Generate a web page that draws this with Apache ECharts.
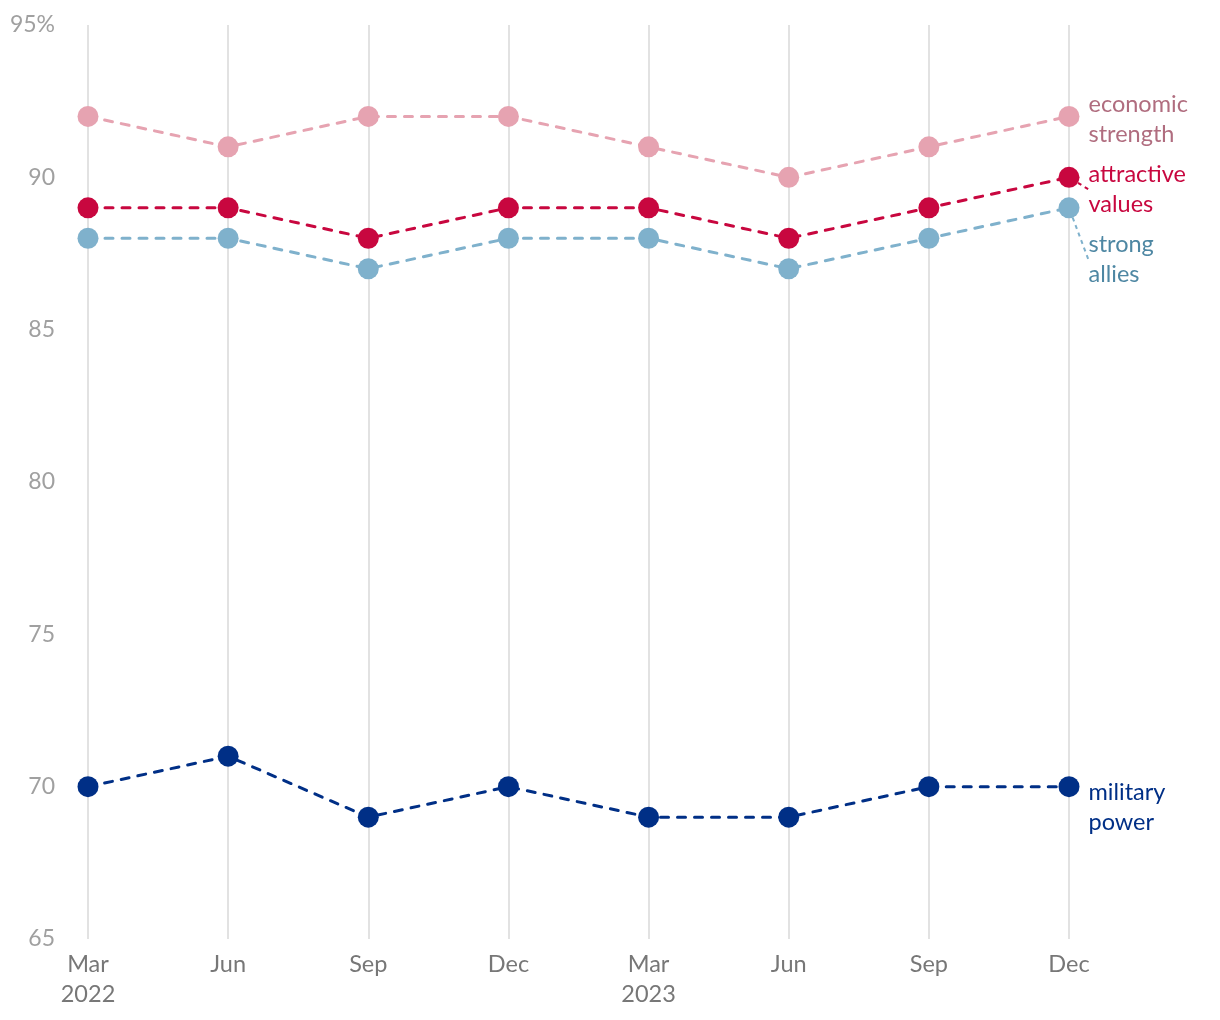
<!DOCTYPE html>
<html>
<head>
<meta charset="utf-8">
<script src="https://cdn.jsdelivr.net/npm/echarts@6/dist/echarts.min.js"></script>
<style>html,body{margin:0;padding:0;background:#fff}#c{width:1220px;height:1020px}</style>
</head>
<body>
<div id="c"></div>
<script>
const categories = ['Mar\n2022','Jun','Sep','Dec','Mar\n2023','Jun','Sep','Dec'];
const economicStrength = [92, 91, 92, 92, 91, 90, 91, 92];
const attractiveValues = [89, 89, 88, 89, 89, 88, 89, 90];
const strongAllies = [88, 88, 87, 88, 88, 87, 88, 89];
const militaryPower = [70, 71, 69, 70, 69, 69, 70, 70];
const seriesNames = ['economic\nstrength', 'attractive\nvalues', 'strong\nallies', 'military\npower'];

const FONT = 'Lato, "Noto Sans", sans-serif';

function mk(name, data, color, labelColor, dy, z, showLine) {
  const d = data.map((v, i) => {
    if (i === data.length - 1) {
      return { value: v, label: { show: true } };
    }
    return v;
  });
  return {
    name: name,
    type: 'line',
    data: d,
    z: z,
    symbol: 'circle',
    symbolSize: 21,
    itemStyle: { color: color },
    lineStyle: { color: color, width: 3, type: [8, 9], cap: 'round' },
    label: {
      show: false,
      position: 'right',
      distance: 9,
      formatter: name,
      color: labelColor,
      fontFamily: FONT,
      fontSize: 23.5,
      lineHeight: 30,
      align: 'left'
    },
    labelLayout: { dy: dy },
    labelLine: { show: showLine, lineStyle: { color: color, width: 2, type: [4, 4] } },
    emphasis: { disabled: true },
    animation: false
  };
}

const chart = echarts.init(document.getElementById('c'), null, { renderer: 'canvas' });
chart.setOption({
  backgroundColor: '#ffffff',
  animation: false,
  grid: { left: 88, right: 151, top: 25, bottom: 81, containLabel: false },
  xAxis: {
    type: 'category',
    data: categories,
    boundaryGap: false,
    axisLine: { show: false },
    axisTick: { show: false },
    splitLine: { show: true, lineStyle: { color: '#e2e2e2', width: 2 } },
    axisLabel: { color: '#777777', fontFamily: FONT, fontSize: 23.5, lineHeight: 30, margin: 10 }
  },
  yAxis: {
    type: 'value',
    min: 65, max: 95, interval: 5,
    axisLine: { show: false },
    axisTick: { show: false },
    splitLine: { show: false },
    axisLabel: {
      color: '#a0a0a0', fontFamily: FONT, fontSize: 23, margin: 33,
      formatter: v => v === 95 ? '95%' : String(v)
    }
  },
  series: [
    mk(seriesNames[0], economicStrength, '#e6a3b1', '#b06d7f', 3, 2, false),
    mk(seriesNames[1], attractiveValues, '#c8073f', '#c8073f', 12, 4, true),
    mk(seriesNames[2], strongAllies, '#7fb1cc', '#4e87a3', 52, 3, true),
    mk(seriesNames[3], militaryPower, '#002f86', '#002f86', 21, 5, false)
  ]
});
</script>
</body>
</html>
